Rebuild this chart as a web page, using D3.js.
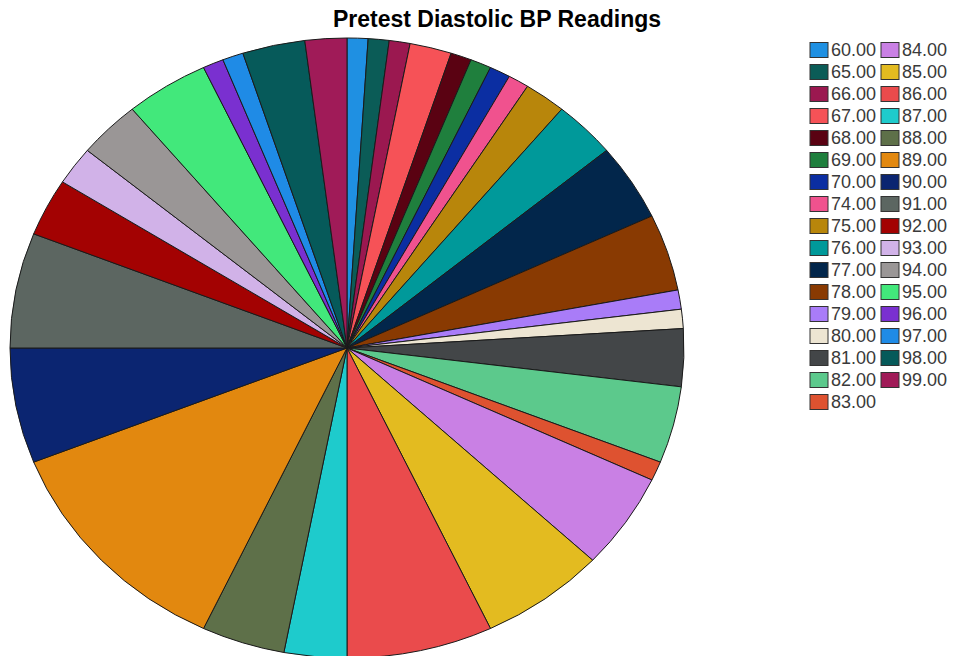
<!DOCTYPE html>
<html>
<head>
<meta charset="utf-8">
<script src="https://cdn.jsdelivr.net/npm/d3@7"></script>
<style>
  html, body { margin: 0; padding: 0; background: #fff; }
  svg { display: block; }
</style>
</head>
<body>
<svg id="chart" width="953" height="656"></svg>
<script>
// Frequency of each pretest diastolic reading (mmHg)
const categories = ["60.00","65.00","66.00","67.00","68.00","69.00","70.00","74.00","75.00","76.00","77.00",
  "78.00","79.00","80.00","81.00","82.00","83.00","84.00","85.00","86.00","87.00","88.00","89.00",
  "90.00","91.00","92.00","93.00","94.00","95.00","96.00","97.00","98.00","99.00"];
const counts = [1,1,1,2,1,1,1,1,2,3,4,4,1,1,3,4,1,5,6,7,3,4,12,6,6,3,2,3,4,1,1,3,2];
const colors = ["#1f90e2","#0b5c57","#9b1850","#f65257","#5a0212","#1f7f3d","#0b2ea2","#f0528e",
  "#b8860b","#00999a","#02264b","#893a02","#a97cf8","#ede5d2","#434648","#5cc98c","#de5230",
  "#c980e4","#e3bb20","#ea4b4c","#1ecbcc","#5e7049","#e2880f","#0b2571","#5c6661","#a30202",
  "#d1b2e8","#9a9696","#42e87b","#7a30d0","#1f8be6","#065a5a","#a01b58"];
const title = "Pretest Diastolic BP Readings";

const svg = d3.select("#chart");

// Elliptical pie: circular arcs squashed vertically
const cx = 347, cy = 348, rx = 337, ry = 310;
const pie = d3.pie().sort(null).value(d => d.count);
const arc = d3.arc().innerRadius(0).outerRadius(rx);
const data = categories.map((c, i) => ({ label: c, count: counts[i], color: colors[i] }));

const g = svg.append("g")
  .attr("transform", `translate(${cx},${cy}) scale(1,${ry / rx})`);

g.selectAll("path")
  .data(pie(data))
  .join("path")
  .attr("d", arc)
  .attr("fill", d => d.data.color)
  .attr("stroke", "#1a1a1a")
  .attr("stroke-width", 1)
  .attr("vector-effect", "non-scaling-stroke");

// Title
svg.append("text")
  .attr("x", 497)
  .attr("y", 27)
  .attr("text-anchor", "middle")
  .attr("font-family", "Arial, 'Liberation Sans', sans-serif")
  .attr("font-weight", "bold")
  .attr("font-size", 23)
  .attr("fill", "#000")
  .text(title);

// Legend: two columns, column-major order
const rowsPerCol = Math.ceil(categories.length / 2);
const legend = svg.append("g").attr("transform", "translate(810,50)");
const items = legend.selectAll("g")
  .data(data)
  .join("g")
  .attr("transform", (d, i) => {
    const col = Math.floor(i / rowsPerCol), row = i % rowsPerCol;
    return `translate(${col * 71},${row * 22})`;
  });
items.append("rect")
  .attr("x", 0).attr("y", -7.5)
  .attr("width", 18).attr("height", 15)
  .attr("fill", d => d.color)
  .attr("stroke", "#333")
  .attr("stroke-width", 1);
items.append("text")
  .attr("x", 21)
  .attr("y", 0)
  .attr("dy", "0.36em")
  .attr("font-family", "Arial, 'Liberation Sans', sans-serif")
  .attr("font-size", 18)
  .attr("fill", "#3a3a3a")
  .text(d => d.label);
</script>
</body>
</html>
